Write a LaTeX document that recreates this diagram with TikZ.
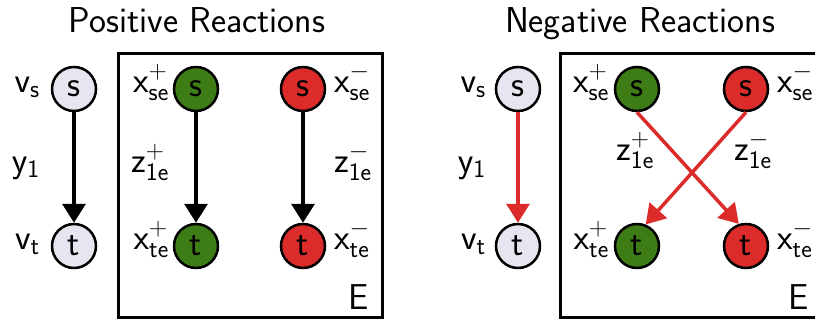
\RequirePackage{fix-cm}
\documentclass[tikz,border=0pt]{standalone}
\usetikzlibrary{arrows.meta}
\definecolor{nodegray}{HTML}{E6E6F0}
\definecolor{posgreen}{HTML}{3E7D15}
\definecolor{negred}{HTML}{DC2B2B}
\newcommand{\pl}{\mathbf{+}}
\newcommand{\mi}{\mathbf{-}}
\begin{document}
\begin{tikzpicture}[x=1pt,y=-1pt,
  font=\sffamily\fontsize{36}{36}\selectfont,
  vnode/.style={circle,draw=black,line width=2.5pt,minimum size=44pt,inner sep=0pt},
  gnode/.style={vnode,fill=nodegray},
  pnode/.style={vnode,fill=posgreen},
  nnode/.style={vnode,fill=negred},
  lab/.style={inner sep=0pt},
  title/.style={inner sep=0pt,anchor=base},
  arr/.style={line width=3.5pt,-{Triangle[length=19pt,width=23pt]}},
  frame/.style={line width=3pt}]
\useasboundingbox (0,0) rectangle (815,325);
\clip (0,0) rectangle (815,325);
% ---------- Positive ----------
\node[title] (tpos) at (197,32) {Positive Reactions};
\node[frame,draw,minimum width=264pt,minimum height=264pt,inner sep=0pt] (boxp) at (250,185) {};
\node[gnode] (ps) at (74,89) {s};
\node[gnode] (pt) at (74,246) {t};
\node[pnode] (pgs) at (196,89) {s};
\node[pnode] (pgt) at (196,246) {t};
\node[nnode] (prs) at (303,89) {s};
\node[nnode] (prt) at (303,246) {t};
\draw[arr] (ps) -- (pt);
\draw[arr] (pgs) -- (pgt);
\draw[arr] (prs) -- (prt);
\node[lab,anchor=base east] (lvs) at (40,92) {$\mathsf{v}_{\mathsf{s}}$};
\node[lab,anchor=base east] (ly) at (40,172) {$\mathsf{y}_{\mathsf{1}}$};
\node[lab,anchor=base east] (lvt) at (40,249) {$\mathsf{v}_{\mathsf{t}}$};
\node[lab,anchor=base east] (lxps) at (169,92) {$\mathsf{x}^{\pl}_{\mathsf{se}}$};
\node[lab,anchor=base east] (lzp) at (169,172) {$\mathsf{z}^{\pl}_{\mathsf{1e}}$};
\node[lab,anchor=base east] (lxpt) at (169,249) {$\mathsf{x}^{\pl}_{\mathsf{te}}$};
\node[lab,anchor=base west] (lxns) at (334,92) {$\mathsf{x}^{\mi}_{\mathsf{se}}$};
\node[lab,anchor=base west] (lzn) at (334,172) {$\mathsf{z}^{\mi}_{\mathsf{1e}}$};
\node[lab,anchor=base west] (lxnt) at (334,249) {$\mathsf{x}^{\mi}_{\mathsf{te}}$};
\node[lab,anchor=base west] (le1) at (348,309) {E};
% ---------- Negative ----------
\node[title] (tneg) at (640,32) {Negative Reactions};
\draw[frame] (830,53) -- (560,53) -- (560,317) -- (830,317);
\node[gnode] (ns) at (518,89) {s};
\node[gnode] (nt) at (518,246) {t};
\node[pnode] (ngs) at (637,89) {s};
\node[pnode] (ngt) at (637,246) {t};
\node[nnode] (nrs) at (746,89) {s};
\node[nnode] (nrt) at (746,246) {t};
\draw[arr,negred] (ns) -- (nt);
\draw[arr,negred] (ngs.south) -- (nrt.108);
\draw[arr,negred] (nrs.south) -- (ngt.68);
\node[lab,anchor=base east] (mvs) at (486,92) {$\mathsf{v}_{\mathsf{s}}$};
\node[lab,anchor=base east] (my) at (486,172) {$\mathsf{y}_{\mathsf{1}}$};
\node[lab,anchor=base east] (mvt) at (486,249) {$\mathsf{v}_{\mathsf{t}}$};
\node[lab,anchor=base east] (mxps) at (609,92) {$\mathsf{x}^{\pl}_{\mathsf{se}}$};
\node[lab,anchor=base east] (mzp) at (654,160) {$\mathsf{z}^{\pl}_{\mathsf{1e}}$};
\node[lab,anchor=base east] (mxpt) at (609,249) {$\mathsf{x}^{\pl}_{\mathsf{te}}$};
\node[lab,anchor=base west] (mxns) at (777,92) {$\mathsf{x}^{\mi}_{\mathsf{se}}$};
\node[lab,anchor=base west] (mzn) at (734,160) {$\mathsf{z}^{\mi}_{\mathsf{1e}}$};
\node[lab,anchor=base west] (mxnt) at (777,249) {$\mathsf{x}^{\mi}_{\mathsf{te}}$};
\node[lab,anchor=base west] (le2) at (788,309) {E};
\end{tikzpicture}
\end{document}
